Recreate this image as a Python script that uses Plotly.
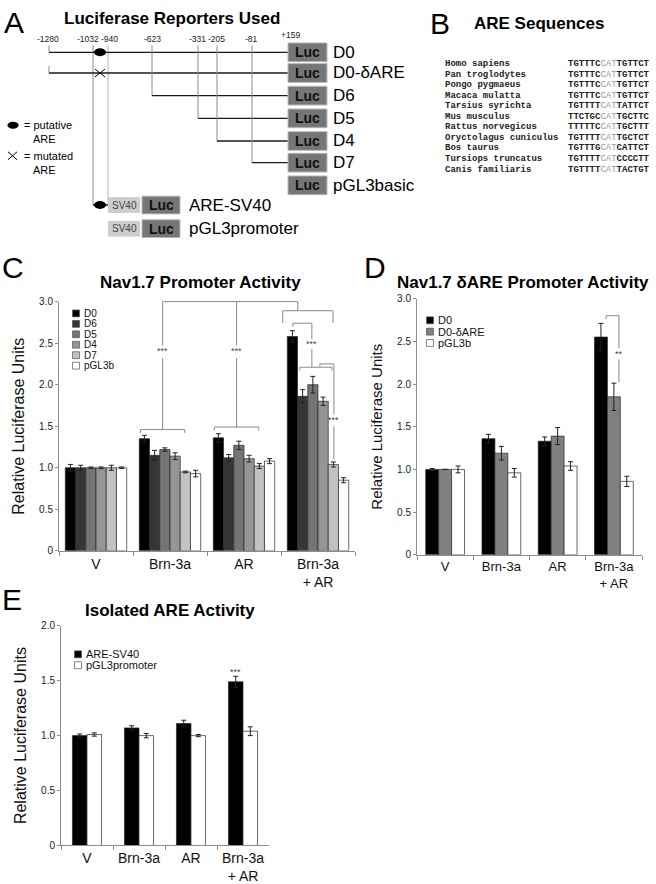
import plotly.graph_objects as go

W, H = 656, 884
SANS = "Liberation Sans, Arial, sans-serif"
MONO = "Liberation Mono, Courier New, monospace"

# ---------------- DATA ----------------
groups = ["V", "Brn-3a", "AR", "Brn-3a<br>+ AR"]
y_tickvals_3 = [0, 0.5, 1.0, 1.5, 2.0, 2.5, 3.0]
y_ticktext_3 = ["0", "0.5", "1.0", "1.5", "2.0", "2.5", "3.0"]
y_tickvals_2 = [0, 0.5, 1.0, 1.5, 2.0]
y_ticktext_2 = ["0", "0.5", "1.0", "1.5", "2.0"]

# Panel C: Nav1.7 promoter activity
c_names = ["D0", "D6", "D5", "D4", "D7", "pGL3b"]
c_D0 = [1.00, 1.35, 1.36, 2.58]
c_D0_err = [0.04, 0.04, 0.05, 0.07]
c_D6 = [1.00, 1.15, 1.12, 1.86]
c_D6_err = [0.03, 0.06, 0.04, 0.08]
c_D5 = [1.00, 1.22, 1.27, 2.00]
c_D5_err = [0.01, 0.02, 0.05, 0.10]
c_D4 = [1.00, 1.14, 1.11, 1.80]
c_D4_err = [0.01, 0.04, 0.04, 0.05]
c_D7 = [1.00, 0.95, 1.02, 1.04]
c_D7_err = [0.03, 0.01, 0.03, 0.03]
c_pGL3b = [1.00, 0.93, 1.08, 0.85]
c_pGL3b_err = [0.01, 0.04, 0.03, 0.03]

# Panel D: Nav1.7 dARE promoter activity
d_names = ["D0", "D0-δARE", "pGL3b"]
d_D0 = [1.00, 1.36, 1.33, 2.55]
d_D0_err = [0.01, 0.05, 0.05, 0.16]
d_dARE = [1.00, 1.19, 1.39, 1.85]
d_dARE_err = [0.00, 0.08, 0.10, 0.16]
d_pGL3b = [1.00, 0.96, 1.04, 0.86]
d_pGL3b_err = [0.04, 0.05, 0.05, 0.06]

# Panel E: isolated ARE activity
e_names = ["ARE-SV40", "pGL3promoter"]
e_ARE = [1.00, 1.07, 1.11, 1.49]
e_ARE_err = [0.015, 0.02, 0.03, 0.05]
e_pGL3p = [1.01, 1.00, 1.00, 1.04]
e_pGL3p_err = [0.015, 0.02, 0.01, 0.04]

# Panel A: constructs
construct_names = ["D0", "D0-δARE", "D6", "D5", "D4", "D7", "pGL3basic"]
construct_starts = ["-1280", "-1280", "-623", "-331", "-205", "-81", None]
position_labels = ["-1280", "-1032", "-940", "-623", "-331", "-205", "-81", "+159"]

# Panel B: ARE sequences
species = ["Homo sapiens", "Pan troglodytes", "Pongo pygmaeus", "Macaca mulatta",
           "Tarsius syrichta", "Mus musculus", "Rattus norvegicus",
           "Oryctolagus cuniculus", "Bos taurus", "Tursiops truncatus",
           "Canis familiaris"]
sequences = ["TGTTTCCATTGTTCT", "TGTTTCCATTGTTCT", "TGTTTCCATTGTTCT", "TGTTTCCATTGTTCT",
             "TGTTTTCATTATTCT", "TTCTGCCATTGCTTC", "TTTTTCCATTGCTTT",
             "TGTTTTCATTGCTCT", "TGTTTGCATCATTCT", "TGTTTTCATCCCCTT",
             "TGTTTTCATTACTGT"]

# ---------------- STYLE / LAYOUT ----------------
def px(x): return x / W
def py(y): return 1 - y / H

shapes, annots = [], []

def pline(x0, y0, x1, y1, color="#000", width=1.0):
    shapes.append(dict(type="line", xref="paper", yref="paper", x0=px(x0), y0=py(y0),
                       x1=px(x1), y1=py(y1), line=dict(color=color, width=width)))

def prect(x0, y0, x1, y1, fill, lc="rgba(0,0,0,0)", lw=0):
    shapes.append(dict(type="rect", xref="paper", yref="paper", x0=px(x0), y0=py(y0),
                       x1=px(x1), y1=py(y1), fillcolor=fill, line=dict(color=lc, width=lw)))

def pell(cx, cy, rx, ry, fill="#000"):
    shapes.append(dict(type="circle", xref="paper", yref="paper", x0=px(cx - rx), y0=py(cy - ry),
                       x1=px(cx + rx), y1=py(cy + ry), fillcolor=fill, line=dict(color=fill, width=0)))

def ptext(x, y, s, size, color="#000", bold=False, xanchor="center", yanchor="middle", family=SANS):
    annots.append(dict(xref="paper", yref="paper", x=px(x), y=py(y), text=("<b>%s</b>" % s) if bold else s,
                       showarrow=False, xanchor=xanchor, yanchor=yanchor,
                       font=dict(size=size, color=color, family=family)))

def dpath(xr, yr, pts, color="#8a8a8a", width=1.0):
    d = "M " + " L ".join("%g,%g" % p for p in pts)
    shapes.append(dict(type="path", xref=xr, yref=yr, path=d, line=dict(color=color, width=width)))

def dtext(xr, yr, x, y, s, size=9, color="#444"):
    annots.append(dict(xref=xr, yref=yr, x=x, y=y, text=s, showarrow=False,
                       xanchor="center", yanchor="middle", font=dict(size=size, color=color, family=SANS)))

# ---- Panel A schematic ----
ptext(14, 17, "A", 30, xanchor="center")
ptext(172, 13, "Luciferase Reporters Used", 17, bold=True)
label_x = {"-1280": 48, "-1032": 88, "-940": 109, "-623": 152, "-331": 197, "-205": 216, "-81": 251, "+159": 290}
line_x = {"-1280": 49, "-1032": 93, "-940": 108, "-623": 152, "-331": 198, "-205": 217, "-81": 252}
for lab in position_labels:
    ptext(label_x[lab], 29 if lab == "+159" else 33, lab, 8.5, color="#222")
row_y = [47, 68, 91, 114, 137, 159, 182]
LUC_X0, LUC_X1 = 288, 327
# guide lines
pline(93, 40, 93, 202, color="#8c8c8c", width=1)
pline(108, 40, 108, 202, color="#b5b5b5", width=1)
for name, start, ry in zip(construct_names, construct_starts, row_y):
    if start is not None:
        x0 = line_x[start]
        pline(x0, 40 if start != "-1280" else ry - 7, x0, ry, color="#8c8c8c", width=1)
        pline(x0, ry, LUC_X0, ry, color="#1a1a1a", width=1.3)
    prect(LUC_X0, ry - 9.5, LUC_X1, ry + 9.5, "#767676", lc="#b8b8b8", lw=1)
    ptext((LUC_X0 + LUC_X1) / 2, ry, "Luc", 14, color="#111", bold=True)
    ptext(331, ry, name, 17, xanchor="left")
# ARE marks
pell(100, 47, 6, 4)
pline(95, 64, 105, 72, width=1)
pline(95, 72, 105, 64, width=1)
# ARE-SV40 / pGL3promoter
for ry, name, has_are in [(202, "ARE-SV40", True), (226, "pGL3promoter", False)]:
    if has_are:
        pline(93, ry, 108, ry, color="#000", width=1.3)
        pell(100, ry, 6, 4)
    prect(108, ry - 8, 140, ry + 8, "#cdcdcd")
    ptext(124, ry, "SV40", 10, color="#444")
    prect(142, ry - 9, 180, ry + 9, "#767676", lc="#b8b8b8", lw=1)
    ptext(161, ry, "Luc", 14, color="#111", bold=True)
    ptext(187, ry, name, 17, xanchor="left")
# key
pell(13, 121, 5.5, 3.5)
ptext(22, 121, "= putative", 11, xanchor="left")
ptext(31, 135, "ARE", 11, xanchor="left")
pline(8, 148, 17, 156, width=1)
pline(8, 156, 17, 148, width=1)
ptext(22, 152, "= mutated", 11, xanchor="left")
ptext(31, 166, "ARE", 11, xanchor="left")

# ---- Panel B ----
ptext(440, 18, "B", 30)
ptext(472, 18, "ARE Sequences", 17, bold=True, xanchor="left")
for i, (sp, seq) in enumerate(zip(species, sequences)):
    yy = 59 + i * 10.7
    ptext(443, yy, "<b>%s</b>" % sp, 9, color="#222", xanchor="left", family=MONO)
    s = "<b>%s</b><span style='color:#9a9a9a'>%s</span><b>%s</b>" % (seq[:6], seq[6:9], seq[9:])
    ptext(566, yy, s, 9, color="#222", xanchor="left", family=MONO)

# ---- Bar panels ----
fig = go.Figure()

def add_panel(names, vals, errs, colors, xa, ya, gw):
    n = len(names)
    bw = gw / n
    for i, (nm, v, e, c) in enumerate(zip(names, vals, errs, colors)):
        fig.add_trace(go.Bar(
            x=groups, y=v, name=nm, xaxis=xa, yaxis=ya, showlegend=False,
            width=bw, offset=-gw / 2 + i * bw,
            marker=dict(color=c, line=dict(color="#2a2a2a", width=0.7)),
            error_y=dict(type="data", array=e, color="#222", thickness=1, width=2.5)))

c_colors = ["#000000", "#363636", "#747474", "#959595", "#c2c2c2", "#ffffff"]
d_colors = ["#000000", "#808080", "#ffffff"]
e_colors = ["#000000", "#ffffff"]
add_panel(c_names, [c_D0, c_D6, c_D5, c_D4, c_D7, c_pGL3b],
          [c_D0_err, c_D6_err, c_D5_err, c_D4_err, c_D7_err, c_pGL3b_err], c_colors, "x", "y", 0.83)
add_panel(d_names, [d_D0, d_dARE, d_pGL3b], [d_D0_err, d_dARE_err, d_pGL3b_err], d_colors, "x2", "y2", 0.69)
add_panel(e_names, [e_ARE, e_pGL3p], [e_ARE_err, e_pGL3p_err], e_colors, "x3", "y3", 0.56)

def legend(names, colors, x, y0, dy, size):
    for i, (nm, c) in enumerate(zip(names, colors)):
        yy = y0 + i * dy
        prect(x - 3.5, yy - 3.5, x + 3.5, yy + 3.5, c, lc="#555", lw=0.7)
        ptext(x + 6, yy, nm, size, color="#111", xanchor="left")

legend(c_names, c_colors, 76, 312, 10.6, 10)
legend(d_names, d_colors, 430, 319, 11.5, 11)
legend(e_names, e_colors, 78, 658, 11, 11)

# panel titles & letters
ptext(13, 265, "C", 30)
ptext(200, 281, "Nav1.7 Promoter Activity", 17, bold=True)
ptext(375, 265, "D", 30)
ptext(523, 281, "Nav1.7 δARE Promoter Activity", 17, bold=True)
ptext(12, 602, "E", 30)
ptext(170, 614, "Isolated ARE Activity", 17, bold=True)

# significance brackets, panel C
dpath("x", "y", [(0.6, 1.42), (0.6, 1.46), (1.2, 1.46), (1.2, 1.42)])
dpath("x", "y", [(0.9, 1.46), (0.9, 2.32)])
dpath("x", "y", [(0.9, 2.47), (0.9, 3.0)])
dtext("x", "y", 0.9, 2.40, "***")
dpath("x", "y", [(1.6, 1.45), (1.6, 1.49), (2.2, 1.49), (2.2, 1.45)])
dpath("x", "y", [(1.9, 1.49), (1.9, 2.32)])
dpath("x", "y", [(1.9, 2.47), (1.9, 3.0)])
dtext("x", "y", 1.9, 2.40, "***")
dpath("x", "y domain", [(0.9, 1.0), (2.727, 1.0)])
dpath("x", "y", [(2.727, 3.0), (2.727, 2.89)])
dpath("x", "y", [(2.524, 2.74), (2.524, 2.89), (3.202, 2.89), (3.202, 2.74)])
dpath("x", "y", [(2.66, 2.70), (2.66, 2.74), (2.917, 2.74), (2.917, 2.55)])
dpath("x", "y", [(2.917, 2.43), (2.917, 2.21)])
dtext("x", "y", 2.917, 2.49, "***")
dpath("x", "y", [(2.754, 2.17), (2.754, 2.21), (3.188, 2.21), (3.188, 2.17)])
dpath("x", "y", [(3.025, 2.22), (3.025, 2.25), (3.215, 2.25), (3.215, 1.64)])
dpath("x", "y", [(3.215, 1.50), (3.215, 1.10)])
dtext("x", "y", 3.215, 1.57, "***")
# panel D
dpath("x2", "y2", [(2.86, 2.76), (2.86, 2.80), (3.09, 2.80), (3.09, 2.42)])
dpath("x2", "y2", [(3.09, 2.29), (3.09, 2.02)])
dtext("x2", "y2", 3.09, 2.35, "**")
# panel E
dtext("x3", "y3", 2.86, 1.58, "***")

def yax(domain, rng, tv, tt, anchor, tsize):
    return dict(domain=domain, range=rng, anchor=anchor, tickvals=tv, ticktext=tt,
                showline=True, linecolor="#8c8c8c", linewidth=1, ticks="outside", ticklen=3,
                tickcolor="#8c8c8c", showgrid=False, zeroline=False,
                tickfont=dict(size=10, color="#222"),
                title=dict(text="Relative Luciferase Units", font=dict(size=tsize, color="#111"), standoff=10))

def xax(domain, anchor, fsize):
    return dict(domain=domain, anchor=anchor, type="category", range=[-0.5, 3.5],
                showline=True, linecolor="#8c8c8c", linewidth=1, ticks="outside", ticklen=4,
                tickcolor="#8c8c8c", tickson="boundaries", showgrid=False, zeroline=False,
                tickfont=dict(size=fsize, color="#111"))

fig.update_layout(
    width=W, height=H, autosize=False, margin=dict(l=0, r=0, t=0, b=0),
    paper_bgcolor="white", plot_bgcolor="white",
    font=dict(family=SANS, color="#111"), barmode="overlay",
    xaxis=xax([59 / W, 355 / W], "y", 14),
    yaxis=yax([1 - 553 / H, 1 - 300 / H], [0, 3.0], y_tickvals_3, y_ticktext_3, "x", 16),
    xaxis2=xax([417 / W, 642 / W], "y2", 13),
    yaxis2=yax([1 - 557 / H, 1 - 297 / H], [0, 3.0], y_tickvals_3, y_ticktext_3, "x2", 15),
    xaxis3=xax([61 / W, 269 / W], "y3", 14),
    yaxis3=yax([1 - 852 / H, 1 - 629 / H], [0, 2.0], y_tickvals_2, y_ticktext_2, "x3", 16),
    shapes=shapes, annotations=annots,
)

fig.write_html("out.html", config={"displayModeBar": False},
               post_script="document.body.style.margin='0';document.body.style.overflow='hidden';")
